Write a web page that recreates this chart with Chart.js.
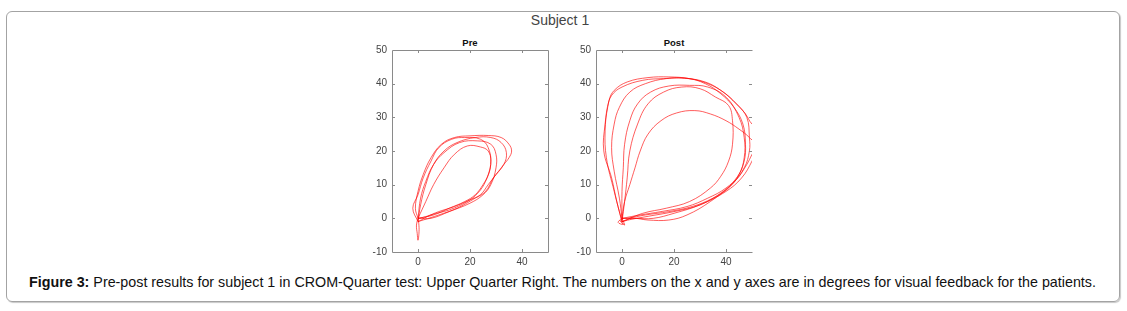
<!DOCTYPE html>
<html>
<head>
<meta charset="utf-8">
<script src="https://cdn.jsdelivr.net/npm/chart.js@4.4.1/dist/chart.umd.min.js"></script>
<style>
  html, body { margin: 0; padding: 0; background: #fff; width: 1127px; height: 311px; overflow: hidden; font-family: "Liberation Sans", Arial, sans-serif; }
  #frame { position: absolute; left: 6px; top: 11px; width: 1112px; height: 289px; border: 1.5px solid #a3a3a3; border-radius: 6px; box-shadow: 1px 1px 1px #c8c8c8; }
  .abs { position: absolute; white-space: nowrap; }
  #suptitle { left: 460px; width: 200px; top: 12px; text-align: center; font-size: 14px; color: #444; }
  .sub { font-size: 9.5px; font-weight: bold; color: #111; width: 100px; text-align: center; top: 37px; }
  #caption { left: 29px; top: 274px; font-size: 14.3px; color: #111; }
  canvas { position: absolute; }
</style>
</head>
<body>
<div id="frame"></div>
<div id="suptitle" class="abs">Subject 1</div>
<div class="abs sub" style="left:420px">Pre</div>
<div class="abs sub" style="left:624px">Post</div>
<div id="caption" class="abs"><b>Figure 3:</b> Pre-post results for subject 1 in CROM-Quarter test: Upper Quarter Right. The numbers on the x and y axes are in degrees for visual feedback for the patients.</div>
<canvas id="pre" width="200" height="240" style="left:360px; top:35px; width:200px; height:240px"></canvas>
<canvas id="post" width="200" height="240" style="left:564px; top:35px; width:200px; height:240px"></canvas>
<script>
// ---- axis settings ----
const xTicks = [0, 20, 40];
const yTicks = [-10, 0, 10, 20, 30, 40, 50];
const xRange = [-10, 50];
const yRange = [-10, 50];

// ---- Pre: traced loops (x deg, y deg) ----
const preLoop1 = [[0,0],[-1,3],[0,8],[2,13],[5,18],[9,22],[14,24],[20,24.5],[27,24.6],[32,24],[35,22],[36,20],[35,18],[33,16],[30,13],[27,10],[24,7],[20,5.5],[14,3.5],[8,2],[3,0.5],[0,0]];
const preLoop2 = [[0,-1],[1,4],[3,10],[6,16],[10,20],[15,22.5],[22,24],[28,24],[32,22.5],[34,19.5],[33,16],[29,12],[26,8],[22,6],[15,3],[8,1],[2,-0.5],[0,-1]];
const preLoop3 = [[0,0],[1,6],[3,11],[6,16],[10,19.5],[16,22.5],[23,23],[28,22],[30,19],[30,15],[28,10],[25,7],[20,4.5],[12,2],[5,0],[0,0]];
const preLoop4 = [[0,0],[3,5],[6,10],[10,15],[14,19],[19,21.5],[24,21.2],[27,20],[28,17],[27,13],[25,10],[22,7],[18,5],[12,3],[6,1],[0,0]];
const preLoop5 = [[0,-1],[-2,3],[0,7],[2,12],[5,17],[8,21],[13,23.5],[18,24],[24,23.5],[27,21],[28,16],[26,11],[23,7.5],[19,5],[12,2.5],[5,1],[0,-1]];
const preTail = [[0,0],[-0.6,-2],[-0.3,-4.5],[0,-6.5],[0.4,-4],[0.3,-1.5],[0,0]];

// ---- Post: traced loops ----
const postLoop1 = [[0,-1],[-2,5],[-4,12],[-7,20],[-6.5,28],[-5,35],[-3,38],[2,40.5],[10,41.8],[18,42],[26,41.5],[33,40],[39,37.5],[44,34],[47.5,31],[50,28],[53,26.5],[52,22],[50,19],[48,16],[44,11.5],[38,7.5],[30,4],[20,2],[10,0.6],[3,-0.4],[0,-1]];
const postLoop2 = [[0,0],[-1,6],[-3,14],[-4,21],[-3,28],[-1,33],[3,37.5],[9,40],[17,41.5],[25,41.6],[32,40],[38,37],[43,33],[46.5,28],[47.5,22],[47,17],[44.5,12.5],[40,9],[33,6],[25,3.5],[15,2],[7,1],[0,0]];
const postLoop3 = [[0,0],[0,8],[0.5,15],[1,22],[3,29],[6,34],[11,37.5],[18,39.3],[26,39.5],[33,39],[40,36],[45,30],[47,24],[47,18],[45,13],[41,9],[35,6],[27,3.5],[18,2],[9,1],[2,0],[0,0]];
const postLoop4 = [[0,-1],[1,5],[2,12],[3,20],[6,28],[10,34],[16,37.5],[23,39],[30,38.5],[36,36],[41,33.5],[42.5,29],[42.5,22],[41,17],[38,12.5],[34,9],[26,5],[17,3],[8,1.5],[0,-1]];
const postLoop5 = [[0,0],[1,5],[3,10],[5,15],[7,20],[10,25],[15,29],[21,31.3],[28,32],[34,31],[40,29],[45,26.5],[49,24],[52,21],[50,17],[46,12],[40,8],[30,4],[20,1.5],[12,0],[5,0],[0,0]];
const postLoop6 = [[0,-1],[-3,8],[-6,18],[-6.5,26],[-5.5,33],[-4,36.5],[0,39],[8,41],[16,41.5],[24,41.6],[32,40.5],[38,38],[44,34],[48,30],[49,24],[49,20],[47,15],[42,10],[34,5],[25,1],[18,-0.5],[10,-0.5],[4,0],[0,-1]];
const postTail = [[0,0],[-1.5,-1.2],[0.5,-1.8],[-0.8,-0.6],[1,-2],[0,0]];

const preSeries = [preLoop1, preLoop2, preLoop3, preLoop4, preLoop5, preTail];
const postSeries = [postLoop1, postLoop2, postLoop3, postLoop4, postLoop5, postLoop6, postTail];

const tickFont = { family: "'Liberation Sans', Arial, sans-serif", size: 10 };

const boxPlugin = {
  id: 'boxTicks',
  afterDraw(chart, args, opts) {
    const { ctx, chartArea: a, scales } = chart;
    ctx.save();
    ctx.strokeStyle = '#8a8a8a';
    ctx.lineWidth = 1;
    ctx.beginPath();
    ctx.moveTo(a.left + 0.5, a.top + 0.5);
    ctx.lineTo(a.left + 0.5, a.bottom + 0.5);
    ctx.lineTo(a.right + 0.5, a.bottom + 0.5);
    if (opts.right) {
      ctx.lineTo(a.right + 0.5, a.top + 0.5);
    }
    ctx.moveTo(a.left + 0.5, a.top + 0.5);
    ctx.lineTo(a.right + 0.5, a.top + 0.5);
    ctx.stroke();
    const L = 3;
    ctx.beginPath();
    xTicks.forEach(v => {
      const px = Math.round(scales.x.getPixelForValue(v)) + 0.5;
      ctx.moveTo(px, a.bottom); ctx.lineTo(px, a.bottom - L);
      ctx.moveTo(px, a.top); ctx.lineTo(px, a.top + L);
    });
    yTicks.slice(1, -1).forEach(v => {
      const py = Math.round(scales.y.getPixelForValue(v)) + 0.5;
      ctx.moveTo(a.left, py); ctx.lineTo(a.left + L, py);
      ctx.moveTo(a.right, py); ctx.lineTo(a.right - L, py);
    });
    ctx.stroke();
    ctx.restore();
  }
};

function makeChart(id, series, rightBorder) {
  return new Chart(document.getElementById(id), {
    type: 'scatter',
    data: {
      datasets: series.map(s => ({
        data: s.map(p => ({ x: p[0], y: p[1] })),
        showLine: true,
        tension: 0.4,
        borderColor: 'rgba(255,0,0,0.8)',
        borderWidth: 0.8,
        pointRadius: 0,
        fill: false
      }))
    },
    options: {
      responsive: false,
      animation: false,
      devicePixelRatio: 1,
      layout: { padding: { top: 15, right: 12, left: 0, bottom: 0 } },
      plugins: { legend: { display: false }, tooltip: { enabled: false }, boxTicks: { right: rightBorder } },
      scales: {
        x: {
          type: 'linear', min: xRange[0], max: xRange[1],
          afterBuildTicks: s => { s.ticks = xTicks.map(v => ({ value: v })); },
          afterFit: s => { s.height = 23; },
          grid: { display: false, drawTicks: false },
          border: { display: false },
          ticks: { font: tickFont, color: '#444', padding: 4, maxRotation: 0 }
        },
        y: {
          type: 'linear', min: yRange[0], max: yRange[1],
          afterBuildTicks: s => { s.ticks = yTicks.map(v => ({ value: v })); },
          afterFit: s => { s.width = 32; },
          grid: { display: false, drawTicks: false },
          border: { display: false },
          ticks: { font: tickFont, color: '#444', padding: 5 }
        }
      }
    },
    plugins: [boxPlugin]
  });
}

makeChart('pre', preSeries, true);
makeChart('post', postSeries, false);
</script>
</body>
</html>
